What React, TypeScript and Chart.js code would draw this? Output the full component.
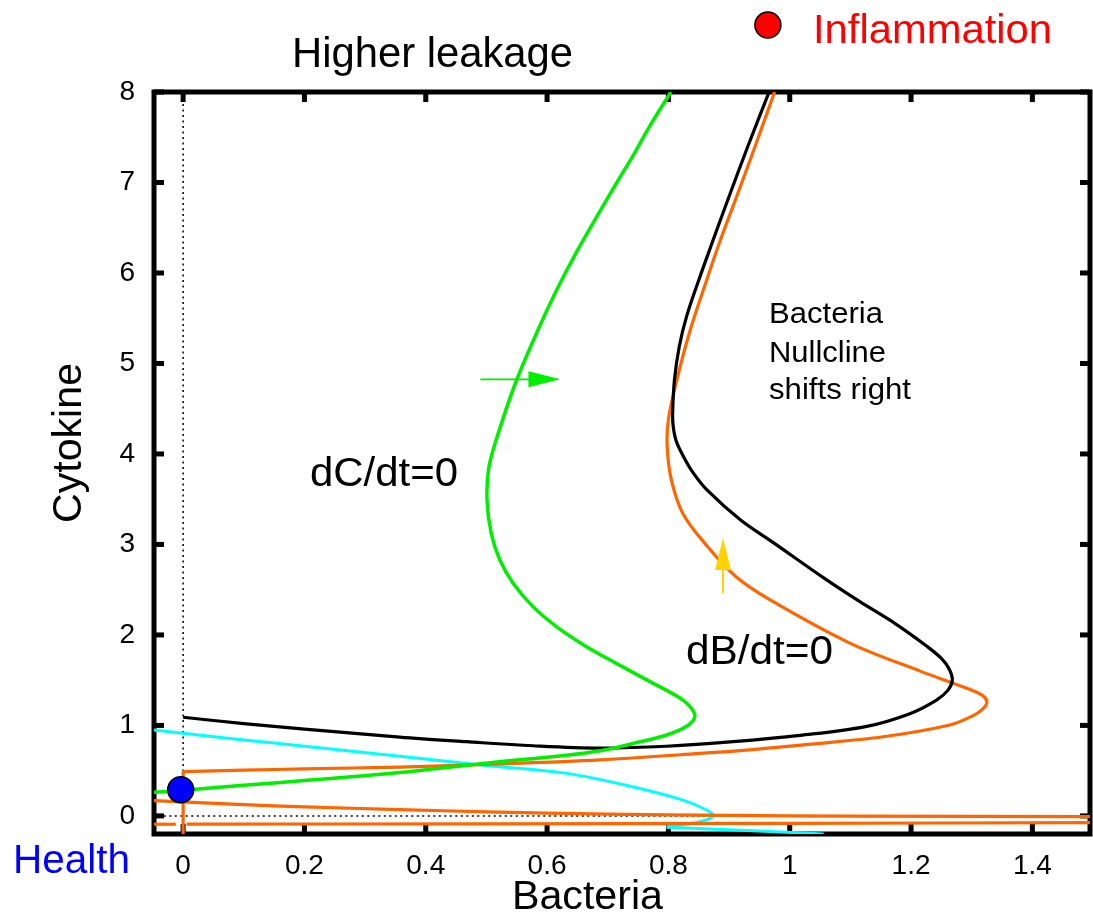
import React, { useEffect, useRef } from "react";
import { Chart, registerables } from "chart.js";

Chart.register(...registerables);

const FONT = '"Liberation Sans", Arial, Helvetica, sans-serif';

// axis ticks
const xTickValues = [0, 0.2, 0.4, 0.6, 0.8, 1, 1.2, 1.4];
const yTickValues = [0, 1, 2, 3, 4, 5, 6, 7, 8];

// original bacteria nullcline (black)
const blackB = [0, 0.1, 0.2, 0.357, 0.467, 0.577, 0.687, 0.797, 0.907, 1.017, 1.127, 1.198, 1.242, 1.261, 1.268, 1.263, 1.25, 1.225, 1.175, 1.115, 1.056, 0.973, 0.919, 0.864, 0.84, 0.825, 0.813, 0.808, 0.807, 0.81, 0.818, 0.83, 0.85, 0.873, 0.898, 0.931, 0.966];
const blackC = [1.09, 1.02, 0.96, 0.87, 0.82, 0.775, 0.75, 0.77, 0.82, 0.89, 0.99, 1.13, 1.28, 1.39, 1.5, 1.62, 1.74, 1.88, 2.12, 2.37, 2.63, 3.02, 3.27, 3.6, 3.8, 3.97, 4.14, 4.3, 4.45, 4.82, 5.19, 5.52, 5.92, 6.35, 6.81, 7.4, 8.0];

// shifted bacteria nullcline (orange), main branch
const orangeB = [0, 0.1, 0.2, 0.357, 0.522, 0.687, 0.852, 0.934, 1.03, 1.154, 1.264, 1.3, 1.318, 1.325, 1.318, 1.292, 1.215, 1.099, 0.967, 0.912, 0.864, 0.824, 0.805, 0.798, 0.8, 0.814, 0.836, 0.863, 0.885, 0.91, 0.943, 0.975];
const orangeC = [0.49, 0.505, 0.52, 0.54, 0.575, 0.62, 0.69, 0.73, 0.79, 0.875, 1.005, 1.1, 1.18, 1.26, 1.33, 1.41, 1.6, 1.91, 2.39, 2.64, 2.98, 3.34, 3.71, 4.08, 4.38, 4.82, 5.37, 5.92, 6.35, 6.8, 7.4, 8.0];
// orange branch on the B = 0 axis
const orangeAxisB = [0, 0];
const orangeAxisC = [-0.2, 0.49];
// orange low branches
const orangeLowB = [-0.05, 0.1, 0.2, 0.357, 0.5, 0.7, 0.9, 1.1, 1.5];
const orangeLowC = [0.17, 0.125, 0.1, 0.07, 0.045, 0.02, 0.005, -0.002, -0.008];
const orangeBottomB = [-0.05, -0.012];
const orangeBottomC = [-0.092, -0.092];
const orangeBottom2B = [0.006, 0.5, 1.0, 1.5];
const orangeBottom2C = [-0.091, -0.088, -0.082, -0.075];

// cytokine nullcline (green)
const greenB = [-0.05, 0, 0.1, 0.2, 0.357, 0.495, 0.632, 0.688, 0.742, 0.797, 0.832, 0.8436, 0.838, 0.824, 0.802, 0.775, 0.714, 0.665, 0.616, 0.577, 0.544, 0.522, 0.508, 0.501, 0.504, 0.521, 0.55, 0.585, 0.615, 0.646, 0.68, 0.715, 0.742, 0.769, 0.804];
const greenC = [0.26, 0.283, 0.34, 0.39, 0.48, 0.58, 0.67, 0.72, 0.8, 0.894, 1.0, 1.096, 1.19, 1.28, 1.37, 1.465, 1.686, 1.87, 2.09, 2.31, 2.57, 2.83, 3.12, 3.49, 3.85, 4.26, 4.82, 5.37, 5.8, 6.2, 6.6, 7.0, 7.3, 7.62, 8.0];

// cyan curve
const cyanB = [-0.05, 0.1, 0.2, 0.357, 0.495, 0.632, 0.742, 0.824, 0.863, 0.874, 0.866, 0.852, 0.83, 0.797];
const cyanC = [0.95, 0.84, 0.77, 0.66, 0.56, 0.47, 0.32, 0.175, 0.065, 0.0, -0.035, -0.064, -0.093, -0.12];
const cyanTailB = [0.797, 0.93, 1.056];
const cyanTailC = [-0.125, -0.16, -0.2];

// dotted zero lines
const zeroVB = [0, 0];
const zeroVC = [0.49, 8];
const zeroHB = [-0.05, 1.5];
const zeroHC = [0, 0];

// steady-state markers
const healthB = [-0.004];
const healthC = [0.29];
const inflamB = [0.964];
const inflamC = [8.74];

// arrows
const greenArrowB = [0.49, 0.622];
const greenArrowC = [4.825, 4.825];
const yellowArrowB = [0.89, 0.89];
const yellowArrowC = [2.46, 3.07];

const zip = (bs: number[], cs: number[]) => bs.map((b, i) => ({ x: b, y: cs[i] }));

function drawText(
  ctx: CanvasRenderingContext2D,
  text: string,
  x: number,
  y: number,
  size: number,
  targetW: number | null,
  align: CanvasTextAlign,
  color: string,
  rotate = false
) {
  ctx.save();
  ctx.font = `${size}px ${FONT}`;
  ctx.fillStyle = color;
  ctx.textBaseline = "alphabetic";
  ctx.textAlign = align;
  ctx.translate(x, y);
  if (rotate) ctx.rotate(-Math.PI / 2);
  const w = ctx.measureText(text).width;
  const sx = targetW ? targetW / w : 1;
  ctx.scale(sx, 1);
  ctx.fillText(text, 0, 0);
  ctx.restore();
}

function drawArrow(
  ctx: CanvasRenderingContext2D,
  x0: number,
  y0: number,
  x1: number,
  y1: number,
  color: string,
  lw: number,
  headLen: number,
  headHalf: number
) {
  const ang = Math.atan2(y1 - y0, x1 - x0);
  const c = Math.cos(ang);
  const s = Math.sin(ang);
  ctx.save();
  ctx.strokeStyle = color;
  ctx.fillStyle = color;
  ctx.lineWidth = lw;
  ctx.beginPath();
  ctx.moveTo(x0, y0);
  ctx.lineTo(x1 - c * headLen * 0.5, y1 - s * headLen * 0.5);
  ctx.stroke();
  const bx = x1 - c * headLen;
  const by = y1 - s * headLen;
  ctx.beginPath();
  ctx.moveTo(x1, y1);
  ctx.lineTo(bx + s * headHalf, by - c * headHalf);
  ctx.lineTo(bx - s * headHalf, by + c * headHalf);
  ctx.closePath();
  ctx.fill();
  ctx.restore();
}

const decorPlugin = {
  id: "decor",
  beforeDatasetsDraw(chart: any) {
    const { ctx, chartArea: a, scales } = chart;
    const x = scales.x;
    const y = scales.y;
    ctx.save();
    ctx.strokeStyle = "#000";
    ctx.lineWidth = 5;
    ctx.strokeRect(a.left, a.top, a.right - a.left, a.bottom - a.top);
    ctx.fillStyle = "#000";
    xTickValues.forEach((v) => {
      const px = x.getPixelForValue(v);
      ctx.fillRect(px - 2.5, a.bottom - 10, 5, 10);
      ctx.fillRect(px - 2.5, a.top, 5, 10);
    });
    yTickValues.forEach((v) => {
      const py = y.getPixelForValue(v);
      ctx.fillRect(a.left, py - 2.5, 10, 5);
      ctx.fillRect(a.right - 10, py - 2.5, 10, 5);
    });
    ctx.restore();
  },
  afterDatasetsDraw(chart: any) {
    const { ctx, scales } = chart;
    const x = scales.x;
    const y = scales.y;
    drawArrow(
      ctx,
      x.getPixelForValue(greenArrowB[0]),
      y.getPixelForValue(greenArrowC[0]),
      x.getPixelForValue(greenArrowB[1]),
      y.getPixelForValue(greenArrowC[1]),
      "#00ee00",
      1.8,
      32,
      8
    );
    drawArrow(
      ctx,
      x.getPixelForValue(yellowArrowB[0]),
      y.getPixelForValue(yellowArrowC[0]),
      x.getPixelForValue(yellowArrowB[1]),
      y.getPixelForValue(yellowArrowC[1]),
      "#ffd200",
      2,
      32,
      8
    );
    // inflammation steady-state marker (sits above the plot area)
    ctx.save();
    ctx.beginPath();
    ctx.arc(x.getPixelForValue(inflamB[0]), y.getPixelForValue(inflamC[0]), 13, 0, Math.PI * 2);
    ctx.fillStyle = "#ff0000";
    ctx.fill();
    ctx.lineWidth = 1.5;
    ctx.strokeStyle = "#000";
    ctx.stroke();
    ctx.restore();
  },
  afterDraw(chart: any) {
    const { ctx } = chart;
    drawText(ctx, "Higher leakage", 432.5, 67, 42, 281, "center", "#000");
    drawText(ctx, "Inflammation", 813, 43, 41, 239, "left", "#ff0000");
    drawText(ctx, "Health", 13, 873, 40, 117, "left", "#0000ff");
    drawText(ctx, "Bacteria", 587.5, 909, 40, 151, "center", "#000");
    drawText(ctx, "Cytokine", 81, 443, 41, 160, "center", "#000", true);
    drawText(ctx, "dC/dt=0", 310, 486, 40, 148, "left", "#000");
    drawText(ctx, "dB/dt=0", 686, 664, 40, 147, "left", "#000");
    drawText(ctx, "Bacteria", 769, 323, 30, 114, "left", "#000");
    drawText(ctx, "Nullcline", 769, 362, 30, 117, "left", "#000");
    drawText(ctx, "shifts right", 769, 399, 30, 142, "left", "#000");
  },
};

const lineDs = (data: any[], color: string, width: number, order: number, tension = 0.35, extra: any = {}) => ({
  data,
  showLine: true,
  borderColor: color,
  backgroundColor: color,
  borderWidth: width,
  pointRadius: 0,
  pointHoverRadius: 0,
  tension,
  order,
  ...extra,
});

export default function App() {
  const canvasRef = useRef<HTMLCanvasElement | null>(null);

  useEffect(() => {
    const canvas = canvasRef.current;
    if (!canvas) return;
    const chart = new Chart(canvas, {
      type: "scatter",
      data: {
        datasets: [
          lineDs(zip(zeroVB, zeroVC), "#000", 1.5, 9, 0, { borderDash: [2, 3.5] }),
          lineDs(zip(zeroHB, zeroHC), "#000", 1.5, 9, 0, { borderDash: [2, 3.5] }),
          lineDs(zip(cyanB, cyanC), "#00ffff", 3, 6),
          lineDs(zip(cyanTailB, cyanTailC), "#00ffff", 3, 6, 0),
          lineDs(zip(orangeLowB, orangeLowC), "#ff6600", 3.2, 5),
          lineDs(zip(orangeBottomB, orangeBottomC), "#ff6600", 3.2, 5, 0),
          lineDs(zip(orangeBottom2B, orangeBottom2C), "#ff6600", 3.2, 5),
          lineDs(zip(orangeAxisB, orangeAxisC), "#ff6600", 3.2, 5, 0),
          lineDs(zip(orangeB, orangeC), "#ff6600", 3.2, 4),
          lineDs(zip(blackB, blackC), "#000000", 3.2, 3),
          lineDs(zip(greenB, greenC), "#00ee00", 3.5, 2),
          {
            data: zip(healthB, healthC),
            showLine: false,
            pointRadius: 13,
            pointHoverRadius: 13,
            pointBackgroundColor: "#0000ff",
            pointBorderColor: "#000",
            pointBorderWidth: 1.5,
            order: 0,
          },
        ],
      },
      options: {
        animation: false,
        responsive: false,
        maintainAspectRatio: false,
        events: [],
        layout: { autoPadding: false, padding: { left: 0, right: 3, top: 92, bottom: 0 } },
        plugins: {
          legend: { display: false },
          tooltip: { enabled: false },
          title: { display: false },
        },
        scales: {
          x: {
            type: "linear",
            min: -0.048,
            max: 1.495,
            grid: { display: false, drawTicks: false },
            border: { display: false },
            ticks: {
              autoSkip: false,
              maxRotation: 0,
              padding: 15,
              color: "#000",
              font: { size: 28, family: FONT },
              callback: (v: any) => String(v),
            },
            afterBuildTicks: (s: any) => {
              s.ticks = xTickValues.map((v) => ({ value: v }));
            },
            afterFit: (s: any) => {
              s.height = 83;
              s.paddingLeft = 0;
              s.paddingRight = 0;
            },
          },
          y: {
            type: "linear",
            min: -0.2,
            max: 8,
            grid: { display: false, drawTicks: false },
            border: { display: false },
            ticks: {
              autoSkip: false,
              padding: 19,
              color: "#000",
              font: { size: 28, family: FONT },
              callback: (v: any) => String(v),
            },
            afterBuildTicks: (s: any) => {
              s.ticks = yTickValues.map((v) => ({ value: v }));
            },
            afterFit: (s: any) => {
              s.width = 154;
              s.paddingTop = 0;
              s.paddingBottom = 0;
            },
          },
        },
      },
      plugins: [decorPlugin],
    } as any);
    return () => chart.destroy();
  }, []);

  return (
    <div style={{ position: "fixed", left: 0, top: 0, width: 1093, height: 917, background: "#fff" }}>
      <canvas ref={canvasRef} width={1093} height={917} style={{ display: "block", width: 1093, height: 917 }} />
    </div>
  );
}
